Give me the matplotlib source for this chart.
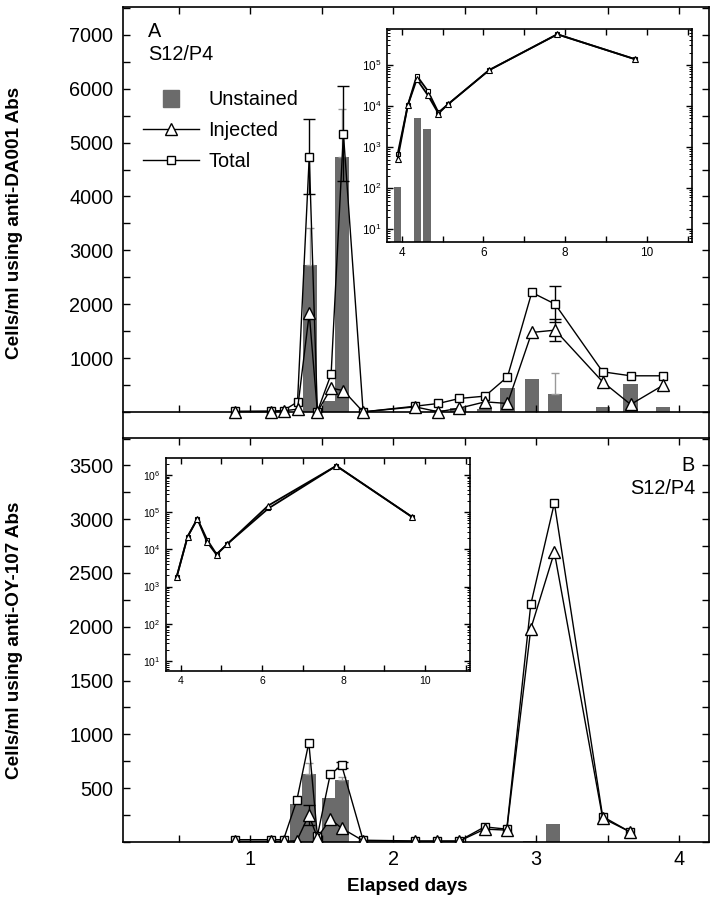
import numpy as np
import matplotlib
matplotlib.use('Agg')
import matplotlib.pyplot as plt
import matplotlib.patches as mpatches
from matplotlib.lines import Line2D
from matplotlib.legend_handler import HandlerPatch
from matplotlib.ticker import MultipleLocator, FixedLocator, LogLocator, NullFormatter

plt.rcParams['font.family'] = ['Liberation Sans', 'DejaVu Sans']
plt.rcParams['mathtext.fontset'] = 'custom'
plt.rcParams['mathtext.rm'] = 'Liberation Sans'

######## data ########
# Panel A (anti-DA001), elapsed days
a_days  = [0.89, 1.145, 1.233, 1.331, 1.413, 1.47, 1.566, 1.652, 1.79, 2.154, 2.317, 2.464, 2.643, 2.80, 2.97, 3.133, 3.466, 3.662, 3.89]
a_total = [15, 20, 30, 190, 4737, 10, 705, 5165, 5, 110, 161, 254, 297, 655, 2220, 2004, 748, 674, 674]
a_inj   = [10, 10, 25, 55, 1831, 5, 445, 400, 5, 98, 6, 74, 191, 161, 1478, 1521, 562, 143, 501]
a_total_err = [0, 0, 0, 0, 700, 0, 0, 880, 0, 0, 0, 0, 0, 0, 0, 334, 0, 0, 0]
a_inj_err   = [0, 0, 0, 0, 0, 0, 0, 0, 0, 0, 0, 0, 0, 0, 0, 200, 0, 0, 0]
a_bar_days = [1.417, 1.558, 1.642, 2.31, 2.45, 2.64, 2.80, 2.97, 3.13, 3.47, 3.66, 3.89]
a_bar_vals = [2727, 210, 4737, 40, 70, 55, 451, 606, 334, 87, 514, 87]
a_bar_err  = [687, 0, 880, 0, 0, 0, 0, 0, 396, 0, 0, 0]

# Panel B (anti-OY-107)
b_days  = [0.89, 1.145, 1.233, 1.326, 1.41, 1.47, 1.56, 1.64, 1.79, 2.15, 2.31, 2.46, 2.64, 2.795, 2.963, 3.128, 3.466, 3.657]
b_total = [20, 20, 20, 387, 922, 56, 628, 712, 15, 8, 8, 8, 139, 118, 2207, 3150, 235, 93]
b_inj   = [5, 5, 5, 10, 248, 40, 211, 127, 10, 5, 5, 5, 118, 109, 1981, 2693, 220, 93]
b_total_err = [0, 0, 0, 0, 0, 0, 0, 30, 0, 0, 0, 0, 0, 0, 0, 0, 0, 0]
b_inj_err   = [0, 0, 0, 0, 95, 0, 0, 0, 0, 0, 0, 0, 0, 0, 0, 0, 0, 0]
b_bar_days = [1.33, 1.41, 1.555, 1.64, 2.96, 3.12]
b_bar_vals = [356, 634, 411, 573, 8, 164]
b_bar_err  = [0, 100, 0, 30, 0, 0]

# insets (log scale), x in days
ia_days  = [3.90, 4.15, 4.37, 4.64, 4.90, 5.13, 6.14, 7.81, 9.72]
ia_total = [670, 1.05e4, 5.5e4, 2.35e4, 7.0e3, 1.1e4, 7.5e4, 5.6e5, 1.38e5]
ia_inj   = [510, 1.05e4, 4.5e4, 1.85e4, 6.6e3, 1.1e4, 7.5e4, 5.6e5, 1.38e5]
ia_bar_days = [3.89, 4.38, 4.62]
ia_bar_vals = [107, 5100, 2750]

ib_days  = [3.90, 4.17, 4.41, 4.65, 4.88, 5.14, 6.15, 7.82, 9.67]
ib_total = [1.8e3, 2.2e4, 6.6e4, 1.8e4, 7.4e3, 1.38e4, 1.25e5, 1.75e6, 7.5e4]
ib_inj   = [1.8e3, 2.2e4, 6.6e4, 1.55e4, 7.2e3, 1.38e4, 1.5e5, 1.75e6, 7.5e4]

BAR_C = '#6b6b6b'
FS = 14.3   # tick / annotation text size


def pick(x, y, e):
    # keep only points that carry an error bar
    x, y, e = np.array(x), np.array(y), np.array(e)
    m = e > 0
    return x[m], y[m], e[m]


def main_panel(ax, days, total, inj, tot_err, inj_err, bdays, bvals, berr):
    ax.bar(bdays, bvals, width=0.1, color=BAR_C, zorder=1)
    bx, by, be = pick(bdays, bvals, berr)
    ax.errorbar(bx, by, yerr=[np.zeros_like(be), be], fmt='none', ecolor='0.6',
                elinewidth=1, capsize=3, zorder=1.5)
    ax.plot(days, total, '-', color='k', lw=1, marker='s', ms=5.5, mfc='white',
            mec='k', mew=1, zorder=3)
    ax.plot(days, inj, '-', color='k', lw=1, marker='^', ms=9, mfc='white',
            mec='k', mew=1, zorder=4)
    tx, ty, te = pick(days, total, tot_err)
    ax.errorbar(tx, ty, yerr=te, fmt='none', ecolor='k', elinewidth=1, capsize=4, zorder=2)
    ix, iy, ie = pick(days, inj, inj_err)
    ax.errorbar(ix, iy, yerr=ie, fmt='none', ecolor='k', elinewidth=1, capsize=4, zorder=2)
    ax.set_xlim(0.11, 4.21)
    ax.xaxis.set_major_locator(MultipleLocator(1))
    ax.xaxis.set_minor_locator(MultipleLocator(0.5))
    ax.tick_params(which='both', direction='in', top=True, right=True,
                   length=5, width=1, labelsize=FS, pad=7)
    for s in ax.spines.values():
        s.set_linewidth(1.2)


def inset_panel(ax, days, total, inj, ylim, lsize):
    ax.set_yscale('log')
    ax.plot(days, total, '-', color='k', lw=1.3, marker='s', ms=3.5, mfc='white',
            mec='k', mew=0.8, zorder=3)
    ax.plot(days, inj, '-', color='k', lw=1.3, marker='^', ms=4.5, mfc='white',
            mec='k', mew=0.8, zorder=4)
    ax.set_xlim(3.64, 11.1)
    ax.set_ylim(*ylim)
    ax.xaxis.set_major_locator(MultipleLocator(2))
    ax.xaxis.set_minor_locator(MultipleLocator(1))
    ax.yaxis.set_major_locator(LogLocator(base=10, numticks=12))
    ax.yaxis.set_minor_locator(LogLocator(base=10, subs=np.arange(2, 10), numticks=12))
    ax.yaxis.set_minor_formatter(NullFormatter())
    ax.tick_params(which='major', direction='in', top=True, right=True,
                   length=4, width=1, labelsize=lsize, pad=4)
    ax.tick_params(which='minor', direction='in', top=True, right=True, length=2.5, width=0.7)
    ax.tick_params(axis='x', which='minor', length=4, width=1)
    for s in ax.spines.values():
        s.set_linewidth(1.2)


fig = plt.figure(figsize=(7.19, 9.05), dpi=100)
axA = fig.add_axes([0.1711, 0.5160, 0.8150, 0.4763])
axB = fig.add_axes([0.1711, 0.0698, 0.8150, 0.4462])

######## Panel A ########
main_panel(axA, a_days, a_total, a_inj, a_total_err, a_inj_err, a_bar_days, a_bar_vals, a_bar_err)
axA.set_ylim(-480, 7515)
axA.spines['bottom'].set_position(('data', 0))
axA.yaxis.set_major_locator(FixedLocator(range(1000, 7001, 1000)))
axA.yaxis.set_minor_locator(MultipleLocator(500))
axA.tick_params(which='minor', length=5, width=1)
axA.tick_params(axis='x', labelbottom=False)
axA.set_ylabel('Cells/ml using anti-DA001 Abs', fontsize=13.6, fontweight='bold')
axA.yaxis.set_label_coords(-0.171, 0.5)
axA.text(0.043, 0.942, 'A', transform=axA.transAxes, fontsize=FS, va='center', ha='left')
axA.text(0.043, 0.889, 'S12/P4', transform=axA.transAxes, fontsize=FS, va='center', ha='left')


def square_patch(legend, orig_handle, xdescent, ydescent, width, height, fontsize):
    s = height * 1.2
    return mpatches.Rectangle((-xdescent + width / 2 - s / 2, -ydescent + height / 2 - s / 2), s, s)


h_bar = mpatches.Patch(color=BAR_C)
h_inj = Line2D([], [], color='k', lw=1, marker='^', ms=9, mfc='white', mec='k')
h_tot = Line2D([], [], color='k', lw=1, marker='s', ms=5.5, mfc='white', mec='k')
axA.legend([h_bar, h_inj, h_tot], ['Unstained', 'Injected', 'Total'],
           loc='upper left', bbox_to_anchor=(0.02, 0.825), frameon=False,
           fontsize=FS, handlelength=2.85, handletextpad=0.45, labelspacing=0.6,
           numpoints=1, borderaxespad=0,
           handler_map={mpatches.Patch: HandlerPatch(patch_func=square_patch)})

######## Panel B ########
main_panel(axB, b_days, b_total, b_inj, b_total_err, b_inj_err, b_bar_days, b_bar_vals, b_bar_err)
axB.set_ylim(0, 3755)
axB.yaxis.set_major_locator(FixedLocator(range(500, 3501, 500)))
axB.yaxis.set_minor_locator(MultipleLocator(250))
axB.tick_params(which='minor', length=5, width=1)
axB.tick_params(axis='x', labelsize=FS, pad=6)
axB.set_ylabel('Cells/ml using anti-OY-107 Abs', fontsize=13.6, fontweight='bold')
axB.yaxis.set_label_coords(-0.171, 0.5)
axB.set_xlabel('Elapsed days', fontsize=13.6, fontweight='bold')
axB.xaxis.set_label_coords(0.485, -0.09)
axB.text(0.976, 0.932, 'B', transform=axB.transAxes, fontsize=FS, va='center', ha='right')
axB.text(0.976, 0.874, 'S12/P4', transform=axB.transAxes, fontsize=FS, va='center', ha='right')

######## insets ########
insA = fig.add_axes([0.5382, 0.7329, 0.4238, 0.2347])
insA.bar(ia_bar_days, ia_bar_vals, width=0.18, bottom=1, color=BAR_C, zorder=1)
inset_panel(insA, ia_days, ia_total, ia_inj, (5, 7.4e5), 8.5)

insB = fig.add_axes([0.2309, 0.2589, 0.4228, 0.2354])
inset_panel(insB, ib_days, ib_total, ib_inj, (5.5, 2.9e6), 7.5)

fig.savefig('out.png', dpi=100)
